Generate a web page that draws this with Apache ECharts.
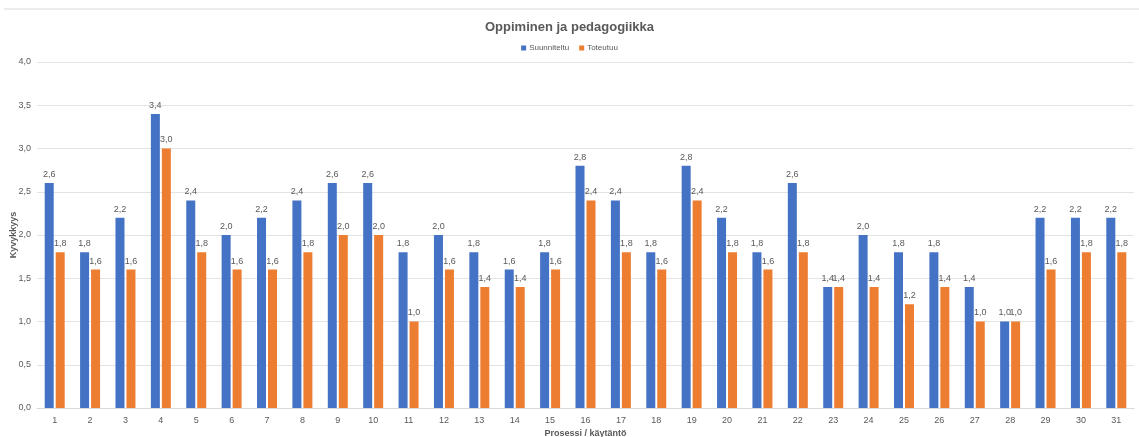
<!DOCTYPE html>
<html>
<head>
<meta charset="utf-8">
<script src="https://cdn.jsdelivr.net/npm/echarts@6/dist/echarts.min.js"></script>
<style>
  html, body { margin: 0; padding: 0; background: #fff; }
  #chart { width: 1139px; height: 437px; }
</style>
</head>
<body>
<div id="chart"></div>
<script>
const categories = ['1','2','3','4','5','6','7','8','9','10','11','12','13','14','15','16','17','18','19','20','21','22','23','24','25','26','27','28','29','30','31'];
const suunniteltu = [2.6,1.8,2.2,3.4,2.4,2.0,2.2,2.4,2.6,2.6,1.8,2.0,1.8,1.6,1.8,2.8,2.4,1.8,2.8,2.2,1.8,2.6,1.4,2.0,1.8,1.8,1.4,1.0,2.2,2.2,2.2];
const toteutuu = [1.8,1.6,1.6,3.0,1.8,1.6,1.6,1.8,2.0,2.0,1.0,1.6,1.4,1.4,1.6,2.4,1.8,1.6,2.4,1.8,1.6,1.8,1.4,1.4,1.2,1.4,1.0,1.0,1.6,1.8,1.8];

const fmt = v => v.toFixed(1).replace('.', ',');
const font = '"Liberation Sans Narrow", "Liberation Sans", sans-serif';

const chart = echarts.init(document.getElementById('chart'));
const labelStyle = {
  show: true, position: 'top', distance: 4,
  color: '#595959', fontSize: 9, fontFamily: font,
  formatter: p => fmt(p.value)
};
chart.setOption({
  animation: false,
  textStyle: { fontFamily: font },
  title: {
    text: 'Oppiminen ja pedagogiikka',
    left: 'center', top: 16,
    textStyle: { fontSize: 13, fontWeight: 'bold', color: '#595959', fontFamily: font }
  },
  legend: {
    top: 39, left: 'center',
    icon: 'rect', itemWidth: 5, itemHeight: 5, itemGap: 10,
    textStyle: { fontSize: 8, color: '#595959', fontFamily: font, padding: [0, 0, 0, -2] },
    data: ['Suunniteltu', 'Toteutuu']
  },
  graphic: [{
    type: 'line', shape: { x1: 4, y1: 9, x2: 1139, y2: 9 },
    style: { stroke: '#d9d9d9', lineWidth: 1 }
  }],
  grid: { left: 37, right: 5, top: 62, bottom: 29, outerBoundsMode: 'none', containLabel: false },
  xAxis: {
    type: 'category', data: categories,
    name: 'Prosessi / käytäntö', nameLocation: 'middle', nameGap: 21, nameMoveOverlap: false,
    nameTextStyle: { fontSize: 9, fontWeight: 'bold', color: '#595959', fontFamily: font },
    axisLine: { lineStyle: { color: '#d9d9d9' } },
    axisTick: { show: false },
    axisLabel: { fontSize: 9, color: '#595959', margin: 8, fontFamily: font }
  },
  yAxis: {
    type: 'value', min: 0, max: 4, interval: 0.5,
    name: 'Kyvykkyys', nameLocation: 'middle', nameGap: 19, nameRotate: 90, nameMoveOverlap: false,
    nameTextStyle: { fontSize: 9, fontWeight: 'bold', color: '#595959', fontFamily: font },
    axisLabel: { fontSize: 9, color: '#595959', formatter: v => fmt(v), margin: 6, fontFamily: font },
    splitLine: { lineStyle: { color: '#e3e3e3' } },
    axisLine: { show: false }, axisTick: { show: false }
  },
  series: [
    { name: 'Suunniteltu', type: 'bar', data: suunniteltu, barWidth: 9, barGap: '22%',
      itemStyle: { color: '#4472C4' }, label: labelStyle },
    { name: 'Toteutuu', type: 'bar', data: toteutuu, barWidth: 9,
      itemStyle: { color: '#ED7D31' }, label: labelStyle }
  ]
});
</script>
</body>
</html>
